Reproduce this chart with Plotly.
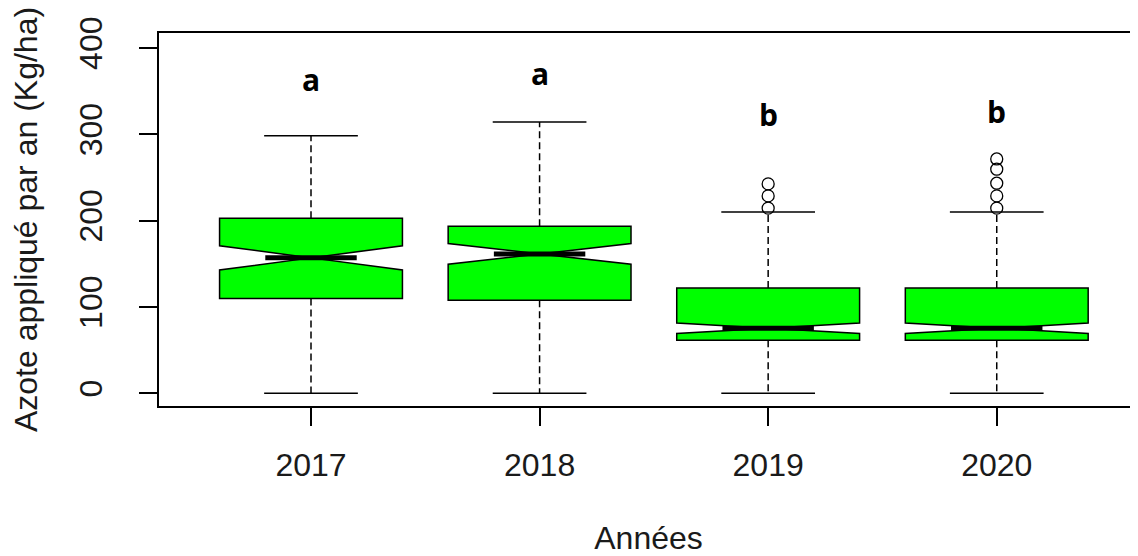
import plotly.graph_objects as go

# values
years = ["2017", "2018", "2019", "2020"]
x_pos = [1, 2, 3, 4]
q1 = [109.7, 107.8, 61.4, 61.4]
median = [156.9, 161.5, 75.4, 75.4]
q3 = [202.9, 193.6, 122.1, 122.1]
whisker_low = [0, 0, 0, 0]
whisker_high = [298.3, 314.2, 209.9, 209.9]
notch_half = [14, 12, 6, 6]
outliers_2019 = [214.5, 228.7, 242.6]
outliers_2020 = [214.5, 228.7, 243.4, 259.6, 271.5]
letters = ["a", "a", "b", "b"]
letter_y = [363, 371, 323, 326]

FONT = "Liberation Sans, Arial, sans-serif"
half_cap = 0.205
half_med = 0.2

fig = go.Figure()

# notched boxes (whiskers drawn separately, dashed like R)
fig.add_trace(go.Box(
    x=x_pos, q1=q1, median=median, q3=q3,
    lowerfence=q1, upperfence=q3,
    notched=True, notchspan=notch_half, notchwidth=0.5,
    width=0.8, whiskerwidth=0,
    fillcolor="#00FF00", line=dict(color="black", width=1.5),
    boxpoints=False, showlegend=False, hoverinfo="skip",
))

wx, wy, cx, cy, mx, my = [], [], [], [], [], []
for i, x in enumerate(x_pos):
    wx += [x, x, None, x, x, None]
    wy += [q3[i], whisker_high[i], None, q1[i], whisker_low[i], None]
    cx += [x - half_cap, x + half_cap, None, x - half_cap, x + half_cap, None]
    cy += [whisker_high[i], whisker_high[i], None, whisker_low[i], whisker_low[i], None]
    mx += [x - half_med, x + half_med, None]
    my += [median[i], median[i], None]

fig.add_trace(go.Scatter(x=wx, y=wy, mode="lines", showlegend=False, hoverinfo="skip",
                         line=dict(color="black", width=1.5, dash="7px,4px")))
fig.add_trace(go.Scatter(x=cx, y=cy, mode="lines", showlegend=False, hoverinfo="skip",
                         line=dict(color="black", width=1.5)))
fig.add_trace(go.Scatter(x=mx, y=my, mode="lines", showlegend=False, hoverinfo="skip",
                         line=dict(color="black", width=5)))

fig.add_trace(go.Scatter(
    x=[3] * len(outliers_2019) + [4] * len(outliers_2020),
    y=outliers_2019 + outliers_2020,
    mode="markers", showlegend=False,
    marker=dict(symbol="circle-open", size=12, color="black", line=dict(width=1.3)),
))

for x, t, y in zip(x_pos, letters, letter_y):
    fig.add_annotation(x=x, y=y, text=f"<b>{t}</b>", showarrow=False,
                       font=dict(family="Open Sans, sans-serif", size=30, color="black"))

fig.update_xaxes(
    range=[0.335, 4.618], tickvals=x_pos, ticktext=years,
    ticks="outside", ticklen=18, tickwidth=1.5, tickcolor="black",
    showline=True, linecolor="black", linewidth=1.5, mirror=True,
    showgrid=False, zeroline=False, ticklabelstandoff=12,
    tickfont=dict(family=FONT, size=32, color="#1a1a1a"),
    title=dict(text="Années", font=dict(family=FONT, size=32, color="#1a1a1a"), standoff=46),
)
fig.update_yaxes(
    range=[-14.7, 417.4], tickvals=[0, 100, 200, 300, 400],
    ticks="outside", ticklen=18, tickwidth=1.5, tickcolor="black", tickangle=-90,
    showline=True, linecolor="black", linewidth=1.5, mirror=False,
    showgrid=False, zeroline=False, ticklabelstandoff=24,
    tickfont=dict(family=FONT, size=32, color="#1a1a1a"),
    title=dict(text="Azote appliqué par an (Kg/ha)", font=dict(family=FONT, size=32, color="#1a1a1a"), standoff=30),
)
fig.update_layout(
    width=1130, height=548,
    margin=dict(l=151, r=0, t=25, b=150, autoexpand=False),
    plot_bgcolor="white", paper_bgcolor="white",
)

fig.write_html("out.html")
